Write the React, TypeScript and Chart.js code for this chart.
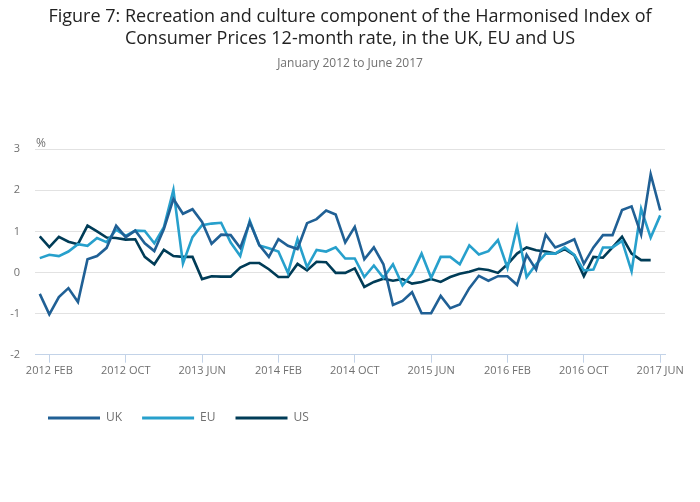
import { useEffect, useRef } from 'react'
import { Chart, registerables } from 'chart.js'

Chart.register(...registerables)

const monthNames = ['JAN', 'FEB', 'MAR', 'APR', 'MAY', 'JUN', 'JUL', 'AUG', 'SEP', 'OCT', 'NOV', 'DEC']
const years = [2012, 2013, 2014, 2015, 2016, 2017]
const months: string[] = []
years.forEach((y) =>
  monthNames.forEach((m, k) => {
    if (y < 2017 || k < 6) months.push(`${y} ${m}`)
  })
)

// 12-month rate, %, Jan 2012 - Jun 2017
const ukRate = [
  -0.52, -1.02, -0.6, -0.38, -0.72, 0.32, 0.4, 0.6, 1.14, 0.86, 1.02, 0.71,
  0.52, 1.06, 1.79, 1.43, 1.54, 1.23, 0.7, 0.92, 0.91, 0.6, 1.22, 0.67,
  0.38, 0.81, 0.65, 0.57, 1.2, 1.3, 1.51, 1.41, 0.73, 1.11, 0.32, 0.61,
  0.2, -0.79, -0.69, -0.48, -0.99, -0.99, -0.57, -0.87, -0.78, -0.38, -0.08, -0.2,
  -0.09, -0.09, -0.3, 0.43, 0.07, 0.92, 0.61, 0.7, 0.81, 0.21, 0.61, 0.91,
  0.91, 1.52, 1.61, 0.92, 2.39, 1.51,
]
const euRate = [
  0.35, 0.43, 0.4, 0.51, 0.69, 0.65, 0.84, 0.74, 1.04, 0.89, 1.02, 1.01,
  0.71, 1.1, 2.01, 0.22, 0.86, 1.15, 1.19, 1.21, 0.73, 0.4, 1.26, 0.66,
  0.59, 0.51, -0.01, 0.81, 0.13, 0.55, 0.51, 0.61, 0.34, 0.34, -0.11, 0.17,
  -0.13, 0.2, -0.31, -0.03, 0.46, -0.13, 0.38, 0.38, 0.2, 0.66, 0.44, 0.52,
  0.79, 0.11, 1.1, -0.11, 0.2, 0.46, 0.46, 0.61, 0.43, 0.05, 0.07, 0.61,
  0.61, 0.77, 0.03, 1.55, 0.85, 1.39,
]
const usRate = [
  0.88, 0.62, 0.87, 0.75, 0.69, 1.14, 1.0, 0.85, 0.84, 0.8, 0.81, 0.38,
  0.2, 0.55, 0.4, 0.38, 0.38, -0.16, -0.09, -0.1, -0.1, 0.12, 0.23, 0.23,
  0.08, -0.11, -0.11, 0.21, 0.05, 0.26, 0.25, -0.01, -0.01, 0.1, -0.35, -0.23,
  -0.15, -0.2, -0.16, -0.27, -0.23, -0.16, -0.23, -0.11, -0.03, 0.02, 0.09, 0.06,
  -0.01, 0.2, 0.46, 0.61, 0.54, 0.51, 0.46, 0.57, 0.42, -0.09, 0.38, 0.36,
  0.61, 0.87, 0.46, 0.3, 0.3, null,
]

const FONT = "'Open Sans', sans-serif"
const axisBlue = '#c3d3e8'

// "%" unit label above the y axis
const unitLabel = {
  id: 'unitLabel',
  afterDraw(chart: any) {
    const { ctx, chartArea } = chart
    ctx.save()
    ctx.font = `12px ${FONT}`
    ctx.fillStyle = '#707070'
    ctx.textAlign = 'left'
    ctx.textBaseline = 'middle'
    ctx.fillText('%', chartArea.left + 1, chartArea.top - 6)
    ctx.restore()
  },
}

// nudge legend to line up with the axis labels
const legendShift = {
  id: 'legendShift',
  afterLayout(chart: any) {
    if (chart.legend) chart.legend.left = 28
  },
}

export default function App() {
  const canvasRef = useRef<HTMLCanvasElement>(null)

  useEffect(() => {
    const ctx = canvasRef.current!.getContext('2d')!
    const chart = new Chart(ctx, {
      type: 'line',
      data: {
        labels: months,
        datasets: [
          { label: 'UK', data: ukRate, borderColor: '#206095', backgroundColor: '#206095' },
          { label: 'EU', data: euRate, borderColor: '#27a0cc', backgroundColor: '#27a0cc' },
          { label: 'US', data: usRate, borderColor: '#003c57', backgroundColor: '#003c57' },
        ],
      },
      options: {
        animation: false,
        responsive: false,
        layout: { padding: { left: 0, right: 0, top: 0, bottom: 68 } },
        elements: {
          line: { borderWidth: 2.6, tension: 0 },
          point: { radius: 0, hoverRadius: 0 },
        },
        scales: {
          x: {
            offset: true,
            afterFit: (scale: any) => {
              scale.height = 37.3
            },
            border: { display: true, color: axisBlue, width: 1 },
            grid: {
              drawOnChartArea: false,
              drawTicks: true,
              tickLength: 8,
              tickColor: (c: any) => (c.index % 8 === 1 ? axisBlue : 'rgba(0,0,0,0)'),
            },
            ticks: {
              autoSkip: false,
              maxRotation: 0,
              padding: 2,
              color: '#707070',
              font: { family: FONT, size: 11 },
              callback: (_v: any, i: number) => (i % 8 === 1 ? months[i] : ''),
            },
          },
          y: {
            min: -2,
            max: 3,
            afterFit: (scale: any) => {
              scale.width = 35
            },
            border: { display: false },
            grid: { color: '#e2e2e2', drawTicks: false },
            ticks: {
              stepSize: 1,
              padding: 15,
              color: '#707070',
              font: { family: FONT, size: 11 },
            },
          },
          // empty right-hand margin so the plot stays centred
          yPad: {
            position: 'right',
            min: -2,
            max: 3,
            afterFit: (scale: any) => {
              scale.width = 35
            },
            border: { display: false },
            grid: { display: false },
            ticks: { display: false },
          },
        },
        plugins: {
          title: {
            display: true,
            text: [
              'Figure 7: Recreation and culture component of the Harmonised Index of',
              'Consumer Prices 12-month rate, in the UK, EU and US',
            ],
            color: '#222222',
            font: { family: FONT, size: 18, weight: 'normal', lineHeight: 1.2 },
            padding: { top: 6, bottom: 0 },
          },
          subtitle: {
            display: true,
            text: 'January 2012 to June 2017',
            color: '#707070',
            font: { family: FONT, size: 12, lineHeight: 1.2 },
            padding: { top: 7.6, bottom: 78 },
          },
          legend: {
            position: 'bottom',
            align: 'start',
            labels: {
              boxWidth: 52,
              boxHeight: 3,
              padding: 20,
              color: '#707070',
              font: { family: FONT, size: 12 },
              generateLabels: (c: any) =>
                Chart.defaults.plugins.legend.labels
                  .generateLabels(c)
                  .map((l: any) => ({ ...l, lineWidth: 0 })),
            },
          },
          tooltip: { enabled: false },
        },
      },
      plugins: [unitLabel, legendShift],
    })
    return () => chart.destroy()
  }, [])

  return (
    <div style={{ position: 'fixed', left: 0, top: 0, width: 700, height: 502, background: '#fff' }}>
      <canvas ref={canvasRef} width={700} height={502} />
    </div>
  )
}
